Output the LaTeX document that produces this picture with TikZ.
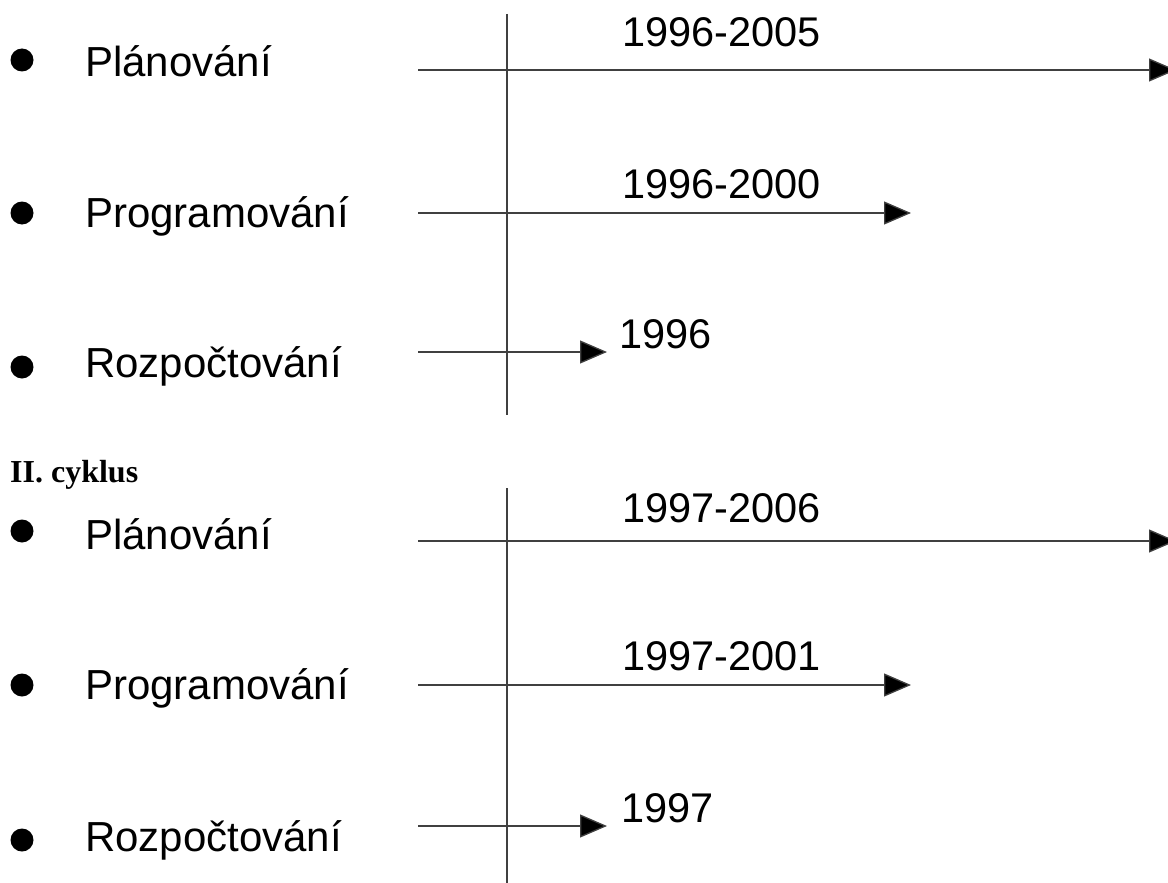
\documentclass[tikz,border=0pt]{standalone}
\usepackage{fontspec}
\setmainfont{Liberation Sans}
\newfontfamily\headfont{Liberation Serif}
\usetikzlibrary{arrows.meta}
\begin{document}
\begin{tikzpicture}[x=1pt,y=-1pt,
  bulletdot/.style={circle,fill=black,inner sep=0pt,minimum size=23pt},
  itemtext/.style={anchor=base west,inner sep=0pt,font=\fontsize{42}{50}\selectfont},
  yeartext/.style={anchor=base west,inner sep=0pt,font=\fontsize{41.5}{50}\selectfont},
  headtext/.style={anchor=base west,inner sep=0pt,font=\headfont\bfseries\fontsize{32}{38}\selectfont},
  axisline/.style={draw=black!75,line width=1.3pt},
  timearrow/.style={draw=black!75,line width=1.3pt,-{Triangle[length=27pt,width=23pt,fill=black]}}
]
\useasboundingbox (0,0) rectangle (1168,883);
\clip (0,0) rectangle (1168,883);

% ---------- Section I ----------
\coordinate (vtopA) at (507,14);
\coordinate (vbotA) at (507,415);
\draw[axisline] (vtopA) -- (vbotA);

\node[bulletdot] (b1) at (22,60) {};
\node[itemtext] (t1) at (85,77) {Plánování};
\coordinate (s1) at (418,70);
\coordinate (e1) at (1176,70);
\draw[timearrow] (s1) -- (e1);
\node[yeartext] (y1) at (622,47) {1996-2005};

\node[bulletdot] (b2) at (22,213) {};
\node[itemtext] (t2) at (85,227) {Programování};
\coordinate (s2) at (418,213);
\coordinate (e2) at (911,213);
\draw[timearrow] (s2) -- (e2);
\node[yeartext] (y2) at (622,198) {1996-2000};

\node[bulletdot] (b3) at (22,367) {};
\node[itemtext] (t3) at (85,377) {Rozpočtování};
\coordinate (s3) at (418,352);
\coordinate (e3) at (607,352);
\draw[timearrow] (s3) -- (e3);
\node[yeartext] (y3) at (619,348) {1996};

% ---------- heading ----------
\node[headtext] (h2) at (10,482) {II. cyklus};

% ---------- Section II ----------
\coordinate (vtopB) at (507,488);
\coordinate (vbotB) at (507,883);
\draw[axisline] (vtopB) -- (vbotB);

\node[bulletdot] (b4) at (22,531) {};
\node[itemtext] (t4) at (85,549) {Plánování};
\coordinate (s4) at (418,541);
\coordinate (e4) at (1176,541);
\draw[timearrow] (s4) -- (e4);
\node[yeartext] (y4) at (622,522) {1997-2006};

\node[bulletdot] (b5) at (22,685) {};
\node[itemtext] (t5) at (85,699) {Programování};
\coordinate (s5) at (418,685);
\coordinate (e5) at (911,685);
\draw[timearrow] (s5) -- (e5);
\node[yeartext] (y5) at (622,670) {1997-2001};

\node[bulletdot] (b6) at (22,840) {};
\node[itemtext] (t6) at (85,851) {Rozpočtování};
\coordinate (s6) at (418,826);
\coordinate (e6) at (607,826);
\draw[timearrow] (s6) -- (e6);
\node[yeartext] (y6) at (621,822) {1997};
\end{tikzpicture}
\end{document}
